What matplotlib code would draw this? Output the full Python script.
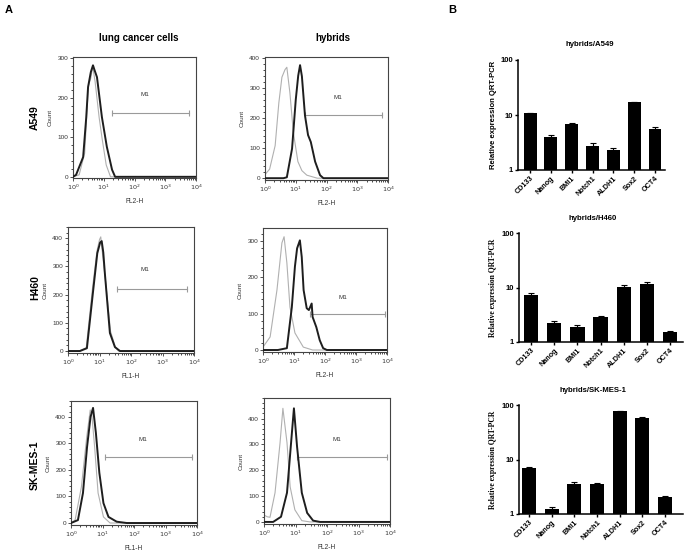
import numpy as np
import matplotlib

matplotlib.use("Agg")
import matplotlib.pyplot as plt
from matplotlib.ticker import LogLocator, MultipleLocator, NullFormatter, FixedLocator

W, H = 686, 558

plt.rcParams.update({
    "font.family": ["Liberation Sans", "DejaVu Sans"],
    "axes.linewidth": 0.8,
})

# ---- panel A: flow cytometry histograms, (log10 fluorescence, count) ------
# gray = control, black = stained
a549_ctrl_x = [0, 0.2, 0.38, 0.5, 0.58, 0.64, 0.72, 0.85, 0.95, 1.08, 1.22, 4.0]
a549_ctrl_y = [0, 5, 60, 230, 250, 280, 240, 150, 95, 30, 0, 0]
a549_stain_x = [0, 0.1, 0.33, 0.43, 0.49, 0.58, 0.65, 0.7, 0.78, 0.94, 1.1, 1.27, 1.37, 4.0]
a549_stain_y = [0, 5, 50, 150, 227, 265, 282, 270, 252, 151, 76, 18, 0, 0]

a549h_ctrl_x = [0, 0.15, 0.33, 0.45, 0.55, 0.65, 0.71, 0.81, 0.92, 1.07, 1.2, 1.36, 1.7, 4.0]
a549h_ctrl_y = [12, 30, 108, 250, 335, 360, 368, 283, 153, 55, 25, 10, 0, 0]
a549h_stain_x = [0, 0.6, 0.71, 0.88, 1.0, 1.08, 1.14, 1.2, 1.3, 1.4, 1.49, 1.63, 1.79, 1.9, 4.0]
a549h_stain_y = [0, 0, 3, 98, 260, 340, 375, 338, 208, 143, 120, 55, 10, 0, 0]

h460_ctrl_x = [0, 0.35, 0.58, 0.78, 0.92, 1.0, 1.04, 1.1, 1.2, 1.35, 1.5, 1.6, 4.0]
h460_ctrl_y = [0, 0, 12, 225, 355, 395, 405, 340, 240, 70, 15, 0, 0]
h460_stain_x = [0, 0.38, 0.6, 0.8, 0.93, 1.02, 1.07, 1.12, 1.17, 1.33, 1.49, 1.65, 4.0]
h460_stain_y = [0, 0, 10, 216, 347, 385, 390, 350, 276, 64, 14, 0, 0]

h460h_ctrl_x = [0, 0.23, 0.45, 0.61, 0.68, 0.77, 0.87, 1.03, 1.3, 1.6, 4.0]
h460h_ctrl_y = [8, 36, 165, 295, 312, 240, 118, 47, 8, 0, 0]
h460h_stain_x = [0, 0.48, 0.77, 0.93, 1.03, 1.1, 1.19, 1.25, 1.31, 1.41, 1.48,
                 1.57, 1.6, 1.72, 1.83, 1.94, 2.06, 4.0]
h460h_stain_y = [0, 0, 5, 118, 230, 280, 302, 256, 165, 115, 110,
                 128, 91, 63, 27, 5, 0, 0]

skmes_ctrl_x = [0, 0.13, 0.33, 0.5, 0.61, 0.66, 0.75, 0.86, 1.03, 1.24, 4.0]
skmes_ctrl_y = [0, 11, 136, 325, 426, 410, 287, 113, 23, 0, 0]
skmes_stain_x = [0, 0.22, 0.38, 0.51, 0.62, 0.7, 0.79, 0.9, 1.03, 1.19, 1.45, 1.77, 4.0]
skmes_stain_y = [0, 11, 113, 287, 400, 434, 340, 189, 75, 23, 5, 0, 0]

skmesh_ctrl_x = [0, 0.1, 0.19, 0.35, 0.51, 0.6, 0.73, 0.83, 0.98, 1.2, 1.46, 4.0]
skmesh_ctrl_y = [27, 20, 18, 113, 307, 440, 307, 136, 47, 5, 0, 0]
skmesh_stain_x = [0, 0.29, 0.54, 0.73, 0.86, 0.95, 1.05, 1.2, 1.37, 1.56, 1.78, 4.0]
skmesh_stain_y = [0, 0, 20, 113, 307, 440, 291, 113, 35, 5, 0, 0]

# M1 gates: (log10 lo, log10 hi, count)
gates = [(1.27, 3.77, 161), (1.3, 3.8, 211),
         (1.55, 3.78, 219), (1.52, 3.94, 100),
         (1.08, 3.84, 250), (1.05, 3.9, 250)]
channels = ["FL2-H", "FL2-H", "FL1-H", "FL2-H", "FL1-H", "FL2-H"]
y_max_ticks = [300, 400, 400, 300, 400, 400]

# ---- panel B: qRT-PCR bars ----------------------------------------------
genes = ["CD133", "Nanog", "BMI1", "Notch1", "ALDH1", "Sox2", "OCT4"]
a549_expr = [10.8, 3.9, 6.9, 2.7, 2.35, 17.0, 5.6]
a549_err = [0.3, 0.35, 0.25, 0.45, 0.2, 0.3, 0.35]
h460_expr = [7.3, 2.25, 1.85, 2.85, 10.3, 11.8, 1.52]
h460_err = [0.5, 0.15, 0.2, 0.2, 0.6, 0.9, 0.1]
skmes_expr = [7.1, 1.25, 3.55, 3.6, 76, 58, 2.05]
skmes_err = [0.1, 0.08, 0.3, 0.1, 3, 2, 0.12]

fig = plt.figure(figsize=(W / 100, H / 100), dpi=100)


def px_axes(l, t, r, b):
    return fig.add_axes([l / W, 1 - b / H, (r - l) / W, (b - t) / H])


def px_text(x, y, s, **kw):
    fig.text(x / W, 1 - y / H, s, **kw)


# ---- layout (pixels) ----------------------------------------------------
flow_boxes = [(73, 57, 196, 178), (265, 57, 388, 180),
              (68, 227, 194, 353), (263, 228, 387, 352),
              (71, 401, 197, 525), (264, 398, 390, 524)]
flow_ylim = [(-3, 303), (-6, 402), (-7, 440), (-5.5, 336), (-7.5, 460), (-8, 480)]
m1_pos = [(0.585, 0.69), (0.59, 0.67), (0.61, 0.66),
          (0.645, 0.44), (0.57, 0.69), (0.58, 0.67)]
curves = [
    (a549_ctrl_x, a549_ctrl_y, a549_stain_x, a549_stain_y),
    (a549h_ctrl_x, a549h_ctrl_y, a549h_stain_x, a549h_stain_y),
    (h460_ctrl_x, h460_ctrl_y, h460_stain_x, h460_stain_y),
    (h460h_ctrl_x, h460h_ctrl_y, h460h_stain_x, h460h_stain_y),
    (skmes_ctrl_x, skmes_ctrl_y, skmes_stain_x, skmes_stain_y),
    (skmesh_ctrl_x, skmesh_ctrl_y, skmesh_stain_x, skmesh_stain_y),
]

for k, box in enumerate(flow_boxes):
    ax = px_axes(*box)
    cx, cy, sx, sy = curves[k]
    ax.plot(10 ** np.array(cx), cy, color="#b0b0b0", lw=0.8, zorder=2)
    ax.plot(10 ** np.array(sx), sy, color="#1e1e1e", lw=1.4, zorder=3)
    lo, hi, gy = gates[k]
    ax.plot([10 ** lo, 10 ** hi], [gy, gy], color="#9a9a9a", lw=0.8,
            marker="|", ms=4, mew=0.8)
    ax.text(*m1_pos[k], "M1", transform=ax.transAxes, fontsize=4.5,
            ha="center", va="center", color="#333333")
    ax.set_xscale("log")
    ax.set_xlim(1, 1e4)
    ax.set_ylim(*flow_ylim[k])
    ax.set_xticks([1, 10, 100, 1000, 10000])
    ax.set_xticklabels([r"$10^{%d}$" % i for i in range(5)])
    ax.xaxis.set_minor_locator(LogLocator(base=10, subs=np.arange(2, 10)))
    ax.xaxis.set_minor_formatter(NullFormatter())
    ax.set_yticks(np.arange(0, y_max_ticks[k] + 1, 100))
    ax.yaxis.set_minor_locator(MultipleLocator(20))
    ax.tick_params(which="major", length=2, width=0.6, labelsize=4.6,
                   pad=1.5, colors="#333333")
    ax.tick_params(which="minor", length=1.2, width=0.5)
    for sp in ax.spines.values():
        sp.set_color("#444444")
    ax.set_ylabel("Count", fontsize=4.6, labelpad=3, color="#333333")
    ax.set_xlabel(channels[k], fontsize=4.8, labelpad=4, color="#333333")

px_text(9, 10, "A", fontsize=8, fontweight="bold", ha="center", va="center")
px_text(452, 10, "B", fontsize=8, fontweight="bold", ha="center", va="center")
px_text(139, 38, "lung cancer cells", fontsize=7, fontweight="bold",
        ha="center", va="center")
px_text(333, 38, "hybrids", fontsize=7, fontweight="bold",
        ha="center", va="center")
for name, yc in [("A549", 118), ("H460", 288), ("SK-MES-1", 465)]:
    px_text(35, yc, name, fontsize=7.5, fontweight="bold", rotation=90,
            ha="center", va="center")

# ---- panel B -------------------------------------------------------------
bar_boxes = [(518, 60, 665, 170), (519, 233, 683, 342), (519, 405, 683, 514)]
bar_xlim = [(-0.58, 6.48), (-0.52, 6.56), (-0.45, 6.8)]
bar_titles = ["hybrids/A549", "hybrids/H460", "hybrids/SK-MES-1"]
title_pos = [(590, 44), (593, 219), (593, 390)]
ylab_font = [["Liberation Sans"], ["Liberation Serif"], ["Liberation Serif"]]
bar_data = [(a549_expr, a549_err), (h460_expr, h460_err), (skmes_expr, skmes_err)]

for k, box in enumerate(bar_boxes):
    ax = px_axes(*box)
    vals, errs = bar_data[k]
    x = np.arange(len(genes))
    ax.bar(x, vals, width=0.62, color="black", zorder=2)
    ax.errorbar(x, vals, yerr=[np.zeros(len(errs)), errs], fmt="none",
                ecolor="black", elinewidth=0.8, capsize=2.4, capthick=0.8)
    ax.set_yscale("log")
    ax.set_ylim(1, 100)
    ax.set_xlim(*bar_xlim[k])
    ax.yaxis.set_major_locator(FixedLocator([1, 10, 100]))
    ax.set_yticklabels(["1", "10", "100"])
    ax.yaxis.set_minor_locator(FixedLocator([]))
    ax.set_xticks(x)
    ax.set_xticklabels(genes, rotation=45, ha="right", rotation_mode="anchor")
    for lab in ax.get_xticklabels() + ax.get_yticklabels():
        lab.set_fontweight("bold")
    ax.tick_params(axis="y", length=2.5, width=1.0, labelsize=5.5, pad=1)
    ax.tick_params(axis="x", length=2, width=1.0, labelsize=5.2, pad=1.5)
    for s in ["top", "right"]:
        ax.spines[s].set_visible(False)
    for s in ["left", "bottom"]:
        ax.spines[s].set_linewidth(1.1)
    px_text(*title_pos[k], bar_titles[k], fontsize=5.6, fontweight="bold",
            ha="center", va="center")
    yc = (box[1] + box[3]) / 2
    px_text(493, yc, "Relative expression QRT-PCR", fontsize=5.5,
            fontweight="bold", rotation=90, ha="center", va="center",
            family=ylab_font[k])

fig.savefig("out.png", dpi=100)
